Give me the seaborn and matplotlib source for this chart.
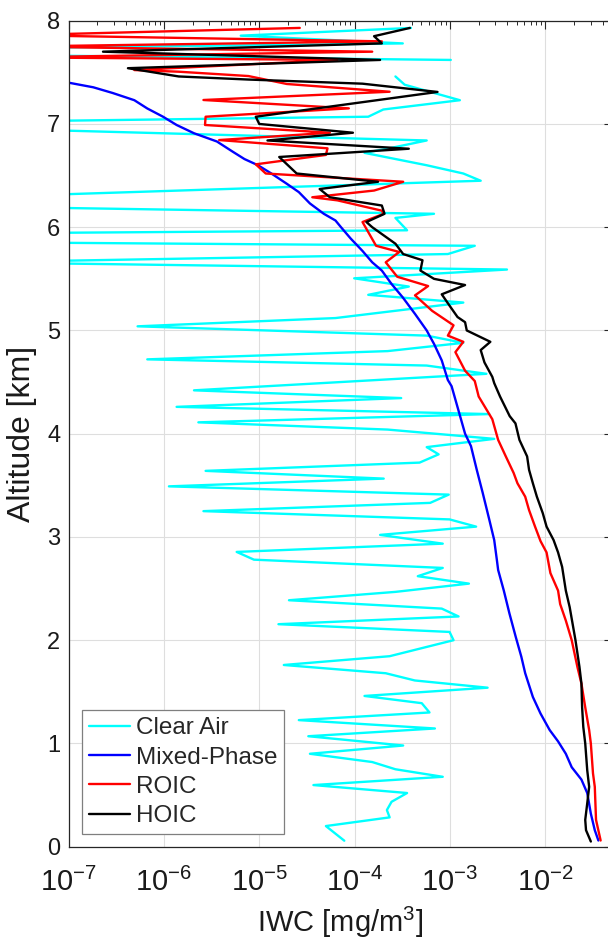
import matplotlib
matplotlib.use("Agg")
import matplotlib.pyplot as plt
import seaborn as sns
import numpy as np
import pandas as pd
from matplotlib.ticker import FixedLocator, LogLocator, NullFormatter

# ---------------- data (IWC in mg/m^3, altitude in km) ----------------
# Clear Air, upper fragment (above data gap)
clear_alt_top = [7.93, 7.855, 7.78, 7.73, 7.67, 7.62]
clear_iwc_top = [3.9e-4, 6.4e-6, 3.2e-4, 1e-8, 1e-8, 1.02e-3]
# Clear Air, main profile
clear_alt = [7.46, 7.38, 7.23, 7.14, 7.07, 7.02, 6.96, 6.84, 6.76, 6.72, 6.60, 6.52,
             6.45, 6.29, 6.20, 6.13, 6.09, 5.97, 5.94, 5.855, 5.82, 5.74, 5.66, 5.59,
             5.505, 5.425, 5.345, 5.27, 5.12, 5.04, 4.95, 4.88, 4.80, 4.72, 4.66, 4.58,
             4.42, 4.345, 4.26, 4.19, 4.11, 4.04, 3.95, 3.87, 3.80, 3.72, 3.64, 3.565,
             3.49, 3.41, 3.33, 3.25, 3.17, 3.10, 3.02, 2.935, 2.855, 2.78, 2.70, 2.62,
             2.548, 2.468, 2.387, 2.306, 2.23, 2.155, 2.08, 2.0, 1.845, 1.76, 1.68, 1.61,
             1.54, 1.46, 1.39, 1.30, 1.226, 1.145, 1.07, 0.98, 0.90, 0.82, 0.75, 0.677,
             0.597, 0.52, 0.435, 0.355, 0.284, 0.20, 0.058]
clear_iwc = [2.68e-4, 3.35e-4, 1.27e-3, 2.0e-4, 1.39e-4, 1e-8, 1e-8, 5.7e-4, 2.2e-4, 1.27e-4,
             5.7e-4, 1.38e-3, 2.1e-3, 1e-8, 1e-8, 6.8e-4, 2.68e-4, 3.55e-4, 1e-8, 1e-8,
             1.82e-3, 9.5e-4, 1e-8, 3.96e-3, 9.9e-5, 3.7e-4, 1.39e-4, 1.38e-3, 6.3e-5,
             5.3e-7, 5.7e-4, 1.38e-3, 2.22e-4, 6.7e-7, 5.7e-4, 2.41e-3, 2.07e-6, 3.08e-4,
             1.36e-6, 2.58e-3, 2.3e-6, 2.22e-4, 2.91e-3, 5.7e-4, 7.6e-4, 4.8e-4, 2.74e-6,
             2.02e-4, 1.13e-6, 9.7e-4, 6.2e-4, 2.6e-6, 9.9e-4, 1.88e-3, 1.85e-4, 8.4e-4,
             5.8e-6, 8.8e-6, 8.4e-4, 4.6e-4, 1.58e-3, 2.68e-4, 2.05e-5, 8.2e-4, 1.23e-3,
             1.59e-5, 9.9e-4, 1.09e-3, 2.33e-4, 1.81e-5, 2.12e-4, 4.28e-4, 2.48e-3, 1.27e-4,
             5.06e-4, 6.1e-4, 2.6e-5, 6.95e-4, 3.27e-5, 3.23e-4, 3.4e-5, 1.53e-4, 2.68e-4,
             8.4e-4, 3.7e-5, 3.55e-4, 2.44e-4, 2.18e-4, 2.33e-4, 5.0e-5, 7.8e-5]

mixed_alt = [7.42, 7.40, 7.355, 7.30, 7.23, 7.15, 7.07, 6.99, 6.91, 6.83, 6.73, 6.66, 6.60,
             6.52, 6.42, 6.34, 6.23, 6.13, 6.065, 6.0, 5.89, 5.77, 5.66, 5.58, 5.45, 5.32,
             5.16, 5.0, 4.87, 4.71, 4.52, 4.46, 4.20, 4.0, 3.88, 3.65, 3.43, 3.17, 2.97,
             2.78, 2.68, 2.48, 2.26, 2.03, 1.84, 1.68, 1.45, 1.29, 1.13, 1.02, 0.90, 0.77,
             0.65, 0.52, 0.32, 0.16, 0.06]
mixed_iwc = [5e-8, 1.0e-7, 1.82e-7, 2.9e-7, 4.9e-7, 6.7e-7, 9.8e-7, 1.36e-6, 2.07e-6, 3.6e-6,
             5.3e-6, 7.0e-6, 9.7e-6, 1.34e-5, 1.95e-5, 2.6e-5, 3.4e-5, 4.75e-5, 6.3e-5, 7.2e-5,
             9.1e-5, 1.21e-4, 1.53e-4, 1.93e-4, 2.44e-4, 3.2e-4, 4.3e-4, 5.7e-4, 6.8e-4,
             8.2e-4, 9.5e-4, 1.04e-3, 1.25e-3, 1.44e-3, 1.66e-3, 1.91e-3, 2.2e-3, 2.58e-3,
             2.91e-3, 3.1e-3, 3.2e-3, 3.67e-3, 4.2e-3, 4.9e-3, 5.6e-3, 6.15e-3, 7.4e-3,
             8.9e-3, 1.11e-2, 1.36e-2, 1.64e-2, 1.89e-2, 2.39e-2, 2.75e-2, 3.0e-2, 3.3e-2,
             3.6e-2]

roic_alt = [7.93, 7.86, 7.80, 7.75, 7.70, 7.645, 7.62, 7.522, 7.506, 7.464, 7.387, 7.312,
            7.232, 7.151, 7.07, 6.99, 6.915, 6.844, 6.764, 6.70, 6.609, 6.52, 6.44, 6.355,
            6.29, 6.26, 6.16, 6.13, 6.05, 5.82, 5.76, 5.66, 5.52, 5.43, 5.34, 5.19, 5.05,
            4.95, 4.89, 4.79, 4.61, 4.51, 4.36, 4.14, 3.94, 3.78, 3.62, 3.52, 3.39, 3.26,
            3.10, 2.96, 2.85, 2.65, 2.48, 2.35, 2.19, 2.0, 1.74, 1.58, 1.35, 1.13, 1.0,
            0.71, 0.58, 0.26, 0.06]
roic_iwc = [2.66e-5, 3e-8, 1.93e-4, 3e-8, 1.53e-4, 3e-8, 6.6e-5, 4.9e-7, 1.43e-6, 7.7e-6,
            1.95e-5, 2.33e-4, 2.6e-6, 8.7e-5, 2.74e-6, 2.7e-6, 5.5e-5, 3.8e-6, 5.2e-5, 5.0e-5,
            9.2e-6, 1.17e-5, 3.23e-4, 1.6e-4, 3.6e-5, 6.6e-5, 1.93e-4, 2.02e-4, 1.21e-4,
            1.68e-4, 2.94e-4, 2.12e-4, 2.8e-4, 5.9e-4, 4.3e-4, 6.5e-4, 1.09e-3, 9.5e-4,
            1.38e-3, 1.14e-3, 1.44e-3, 1.82e-3, 2.0e-3, 2.78e-3, 3.2e-3, 3.85e-3, 4.65e-3,
            5.1e-3, 6.15e-3, 6.75e-3, 7.8e-3, 8.9e-3, 1.03e-2, 1.13e-2, 1.36e-2, 1.43e-2,
            1.64e-2, 1.89e-2, 2.17e-2, 2.39e-2, 2.62e-2, 2.88e-2, 3.0e-2, 3.16e-2, 3.3e-2,
            3.4e-2, 3.8e-2]

hoic_alt = [7.93, 7.85, 7.78, 7.70, 7.62, 7.54, 7.46, 7.43, 7.39, 7.31, 7.07, 7.0, 6.915,
            6.84, 6.76, 6.68, 6.52, 6.44, 6.37, 6.29, 6.21, 6.13, 6.05, 6.0, 5.84, 5.74,
            5.68, 5.58, 5.5, 5.44, 5.35, 5.24, 5.13, 5.08, 5.0, 4.89, 4.81, 4.69, 4.55,
            4.49, 4.36, 4.17, 4.10, 3.94, 3.78, 3.65, 3.52, 3.39, 3.23, 3.10, 2.97, 2.85,
            2.71, 2.48, 2.32, 2.0, 1.74, 1.58, 1.35, 1.16, 1.0, 0.74, 0.58, 0.42, 0.26,
            0.16, 0.05]
hoic_iwc = [3.8e-4, 1.6e-4, 1.93e-4, 2.3e-7, 1.85e-4, 4.2e-7, 1.43e-6, 7.7e-6, 1.21e-4,
            7.4e-4, 9.2e-6, 1.0e-5, 9.6e-5, 1.22e-5, 3.7e-4, 1.62e-5, 2.47e-5, 1.76e-4,
            4.3e-5, 5.5e-5, 1.93e-4, 2.06e-4, 1.33e-4, 1.53e-4, 2.68e-4, 3.23e-4, 5.15e-4,
            4.9e-4, 6.8e-4, 1.44e-3, 8.2e-4, 9.9e-4, 1.2e-3, 1.44e-3, 1.5e-3, 2.65e-3,
            2.1e-3, 2.3e-3, 2.78e-3, 2.91e-3, 3.35e-3, 4.23e-3, 4.86e-3, 5.35e-3, 6.44e-3,
            6.75e-3, 7.4e-3, 8.15e-3, 9.4e-3, 1.03e-2, 1.22e-2, 1.36e-2, 1.5e-2, 1.64e-2,
            1.8e-2, 2.07e-2, 2.28e-2, 2.39e-2, 2.43e-2, 2.5e-2, 2.62e-2, 2.75e-2, 2.88e-2,
            2.75e-2, 2.62e-2, 2.67e-2, 3.0e-2]

x_ticks = [1e-7, 1e-6, 1e-5, 1e-4, 1e-3, 1e-2]
x_tick_labels = [r'$\mathregular{10^{-7}}$', r'$\mathregular{10^{-6}}$', r'$\mathregular{10^{-5}}$',
                 r'$\mathregular{10^{-4}}$', r'$\mathregular{10^{-3}}$', r'$\mathregular{10^{-2}}$']
y_ticks = [0, 1, 2, 3, 4, 5, 6, 7, 8]
series_names = ["Clear Air", "Mixed-Phase", "ROIC", "HOIC"]
series_colors = ["#00FFFF", "#0000FF", "#FF0000", "#000000"]

# ---------------- plotting ----------------
sns.set_style("white")
plt.rcParams['font.family'] = ['Liberation Sans', 'DejaVu Sans']
plt.rcParams['mathtext.default'] = 'regular'

W, H = 608, 940
fig = plt.figure(figsize=(W / 100, H / 100), dpi=100)
ax_left, ax_right, ax_top, ax_bottom = 68.5, 612.0, 20.7, 846.7
ax = fig.add_axes([ax_left / W, 1 - ax_bottom / H, (ax_right - ax_left) / W, (ax_bottom - ax_top) / H])
ax.set_xscale('log')

lw = 1.7
sns.lineplot(x=clear_iwc_top, y=clear_alt_top, sort=False, estimator=None, color=series_colors[0],
             lw=lw, ax=ax, label=series_names[0])
sns.lineplot(x=clear_iwc, y=clear_alt, sort=False, estimator=None, color=series_colors[0],
             lw=lw, ax=ax)
sns.lineplot(x=mixed_iwc, y=mixed_alt, sort=False, estimator=None, color=series_colors[1],
             lw=lw, ax=ax, label=series_names[1])
sns.lineplot(x=roic_iwc, y=roic_alt, sort=False, estimator=None, color=series_colors[2],
             lw=lw, ax=ax, label=series_names[2])
sns.lineplot(x=hoic_iwc, y=hoic_alt, sort=False, estimator=None, color=series_colors[3],
             lw=lw, ax=ax, label=series_names[3])

ax.set_xlim(1e-7, 0.05)
ax.set_ylim(0, 8)
ax.xaxis.set_major_locator(FixedLocator(x_ticks))
ax.set_xticklabels(x_tick_labels)
ax.xaxis.set_minor_locator(LogLocator(base=10, subs=np.arange(2, 10), numticks=20))
ax.xaxis.set_minor_formatter(NullFormatter())
ax.set_yticks(y_ticks)
ax.set_yticklabels([str(v) for v in y_ticks])

dark = '#262626'
ax.grid(True, which='major', color='#dedede', lw=0.8)
ax.set_axisbelow(True)
for s in ax.spines.values():
    s.set_visible(True)
    s.set_color(dark)
    s.set_linewidth(0.9)
ax.tick_params(axis='x', which='major', direction='in', length=6, width=0.8, colors=dark,
               top=True, labelsize=21, pad=15)
ax.tick_params(axis='x', which='minor', direction='in', length=3.2, width=0.7, colors=dark, top=True)
ax.tick_params(axis='y', which='major', direction='in', length=6, width=0.8, colors=dark,
               right=True, labelsize=17, pad=6)
for t in ax.get_xticklabels() + ax.get_yticklabels():
    t.set_color('#1a1a1a')

ax.set_xlabel(r'IWC [mg/m$^{3}$]', fontsize=21, color='#1a1a1a', labelpad=6)
ax.set_ylabel('Altitude [km]', fontsize=23, color='#1a1a1a', labelpad=7)

leg = ax.legend(loc='lower left', bbox_to_anchor=(0.0248, 0.0154), borderaxespad=0,
                fontsize=17.5, frameon=True, fancybox=False, framealpha=1, edgecolor='#7f7f7f',
                handlelength=1.7, handletextpad=0.25, labelspacing=0.3, borderpad=0.28)
leg.get_frame().set_linewidth(0.9)
for line in leg.get_lines():
    line.set_linewidth(1.7)

fig.savefig('out.png', dpi=100)
